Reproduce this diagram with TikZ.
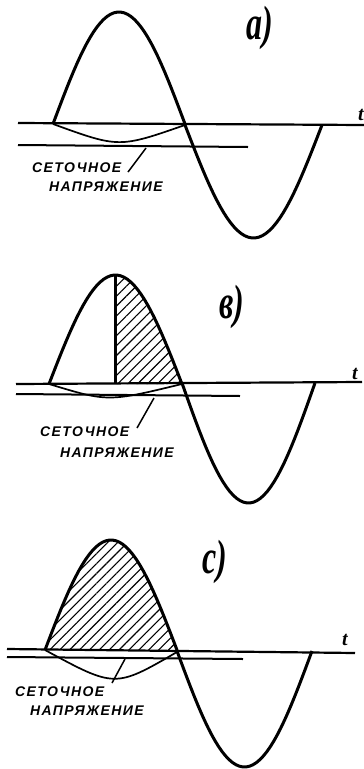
\documentclass[tikz,border=0pt]{standalone}
\usepackage{fontspec}
\usepackage{graphicx}
\setmainfont{Liberation Serif}
\newfontfamily\handfont[LetterSpace=10]{Liberation Sans}
\usetikzlibrary{patterns.meta}

\begin{document}
\begin{tikzpicture}[
  x=1pt, y=-1pt,
  wave/.style  = {line width=3pt, line join=round},
  axisline/.style = {line width=2.2pt},
  biasline/.style = {line width=2pt},
  gridarc/.style  = {line width=1.7pt},
  lead/.style  = {line width=1.5pt},
  hatch/.style = {pattern={Lines[angle=45,distance=7pt,line width=1.1pt]}},
  note/.style  = {font=\handfont\bfseries\itshape\fontsize{14}{14}\selectfont,
                  anchor=base west, inner sep=0pt},
  tag/.style   = {font=\bfseries\itshape\fontsize{32}{32}\selectfont, inner sep=0pt},
  tlbl/.style  = {font=\bfseries\itshape\fontsize{20}{20}\selectfont, inner sep=0pt},
]
\useasboundingbox (0,0) rectangle (364,769);

% --- a) grid voltage below the plate voltage
\node[tag] (tagA) at (260,28) {\scalebox{1}[1.5]{a)}};
\draw[axisline] (18,123) -- (364,125);
\node[tlbl] (timeA) at (361,115) {t};
\draw[biasline] (18,145) -- (248,147);
\draw[wave] plot[domain=0:180,samples=40] ({53+\x/180*132},{124-112*sin(\x)})
  -- plot[domain=0:180,samples=40] ({185+\x/180*137},{125+113*sin(\x)});
\draw[gridarc] (53,124) .. controls (119,148) .. (185,125);
\node[note] (noteA1) at (32,172) {СЕТОЧНОЕ};
\node[note] (noteA2) at (49,191) {НАПРЯЖЕНИЕ};
\coordinate (tipA)  at (146,148);
\coordinate (footA) at (128,172);
\draw[lead] (footA) -- (tipA);

% --- b) current flows from the peak onwards
\node[tag] (tagB) at (232,307) {\scalebox{1}[1.5]{в)}};
\draw[axisline] (16,384) -- (362,382);
\node[tlbl] (timeB) at (355,374) {t};
\draw[biasline] (16,394) -- (240,396);
\fill[hatch] (115.5,384)
  -- plot[domain=90:180,samples=30] ({49+\x/180*133},{384-109*sin(\x)}) -- cycle;
\draw[wave] plot[domain=0:180,samples=40] ({49+\x/180*133},{384-109*sin(\x)})
  -- plot[domain=0:180,samples=40] ({182+\x/180*133},{383+120*sin(\x)});
\coordinate (peakB) at (115.5,275);
\coordinate (footB) at (115.5,384);
\draw[wave] (peakB) -- (footB);
\draw[gridarc] (49,384) .. controls (108,402) .. (182,384);
\node[note] (noteB1) at (40,436) {СЕТОЧНОЕ};
\node[note] (noteB2) at (60,457) {НАПРЯЖЕНИЕ};
\coordinate (tipB)  at (154,398);
\coordinate (footB2) at (137,428);
\draw[lead] (footB2) -- (tipB);

% --- c) current flows over the whole positive half
\node[tag] (tagC) at (215,562) {\scalebox{1}[1.5]{c)}};
\draw[axisline] (7,649) -- (355,653);
\node[tlbl] (timeC) at (345,640) {t};
\draw[biasline] (7,657) -- (243,659);
\fill[hatch] plot[domain=0:180,samples=40] ({45+\x/180*132},{650-110*sin(\x)}) -- cycle;
\draw[wave] plot[domain=0:180,samples=40] ({45+\x/180*132},{650-110*sin(\x)})
  -- plot[domain=0:180,samples=40] ({177+\x/180*135},{651+116*sin(\x)});
\draw[gridarc] (45,650) .. controls (115,688) .. (177,652);
\node[note] (noteC1) at (15,696) {СЕТОЧНОЕ};
\node[note] (noteC2) at (30,715) {НАПРЯЖЕНИЕ};
\coordinate (tipC)  at (125,659);
\coordinate (footC) at (112,683);
\draw[lead] (footC) -- (tipC);
\end{tikzpicture}
\end{document}
